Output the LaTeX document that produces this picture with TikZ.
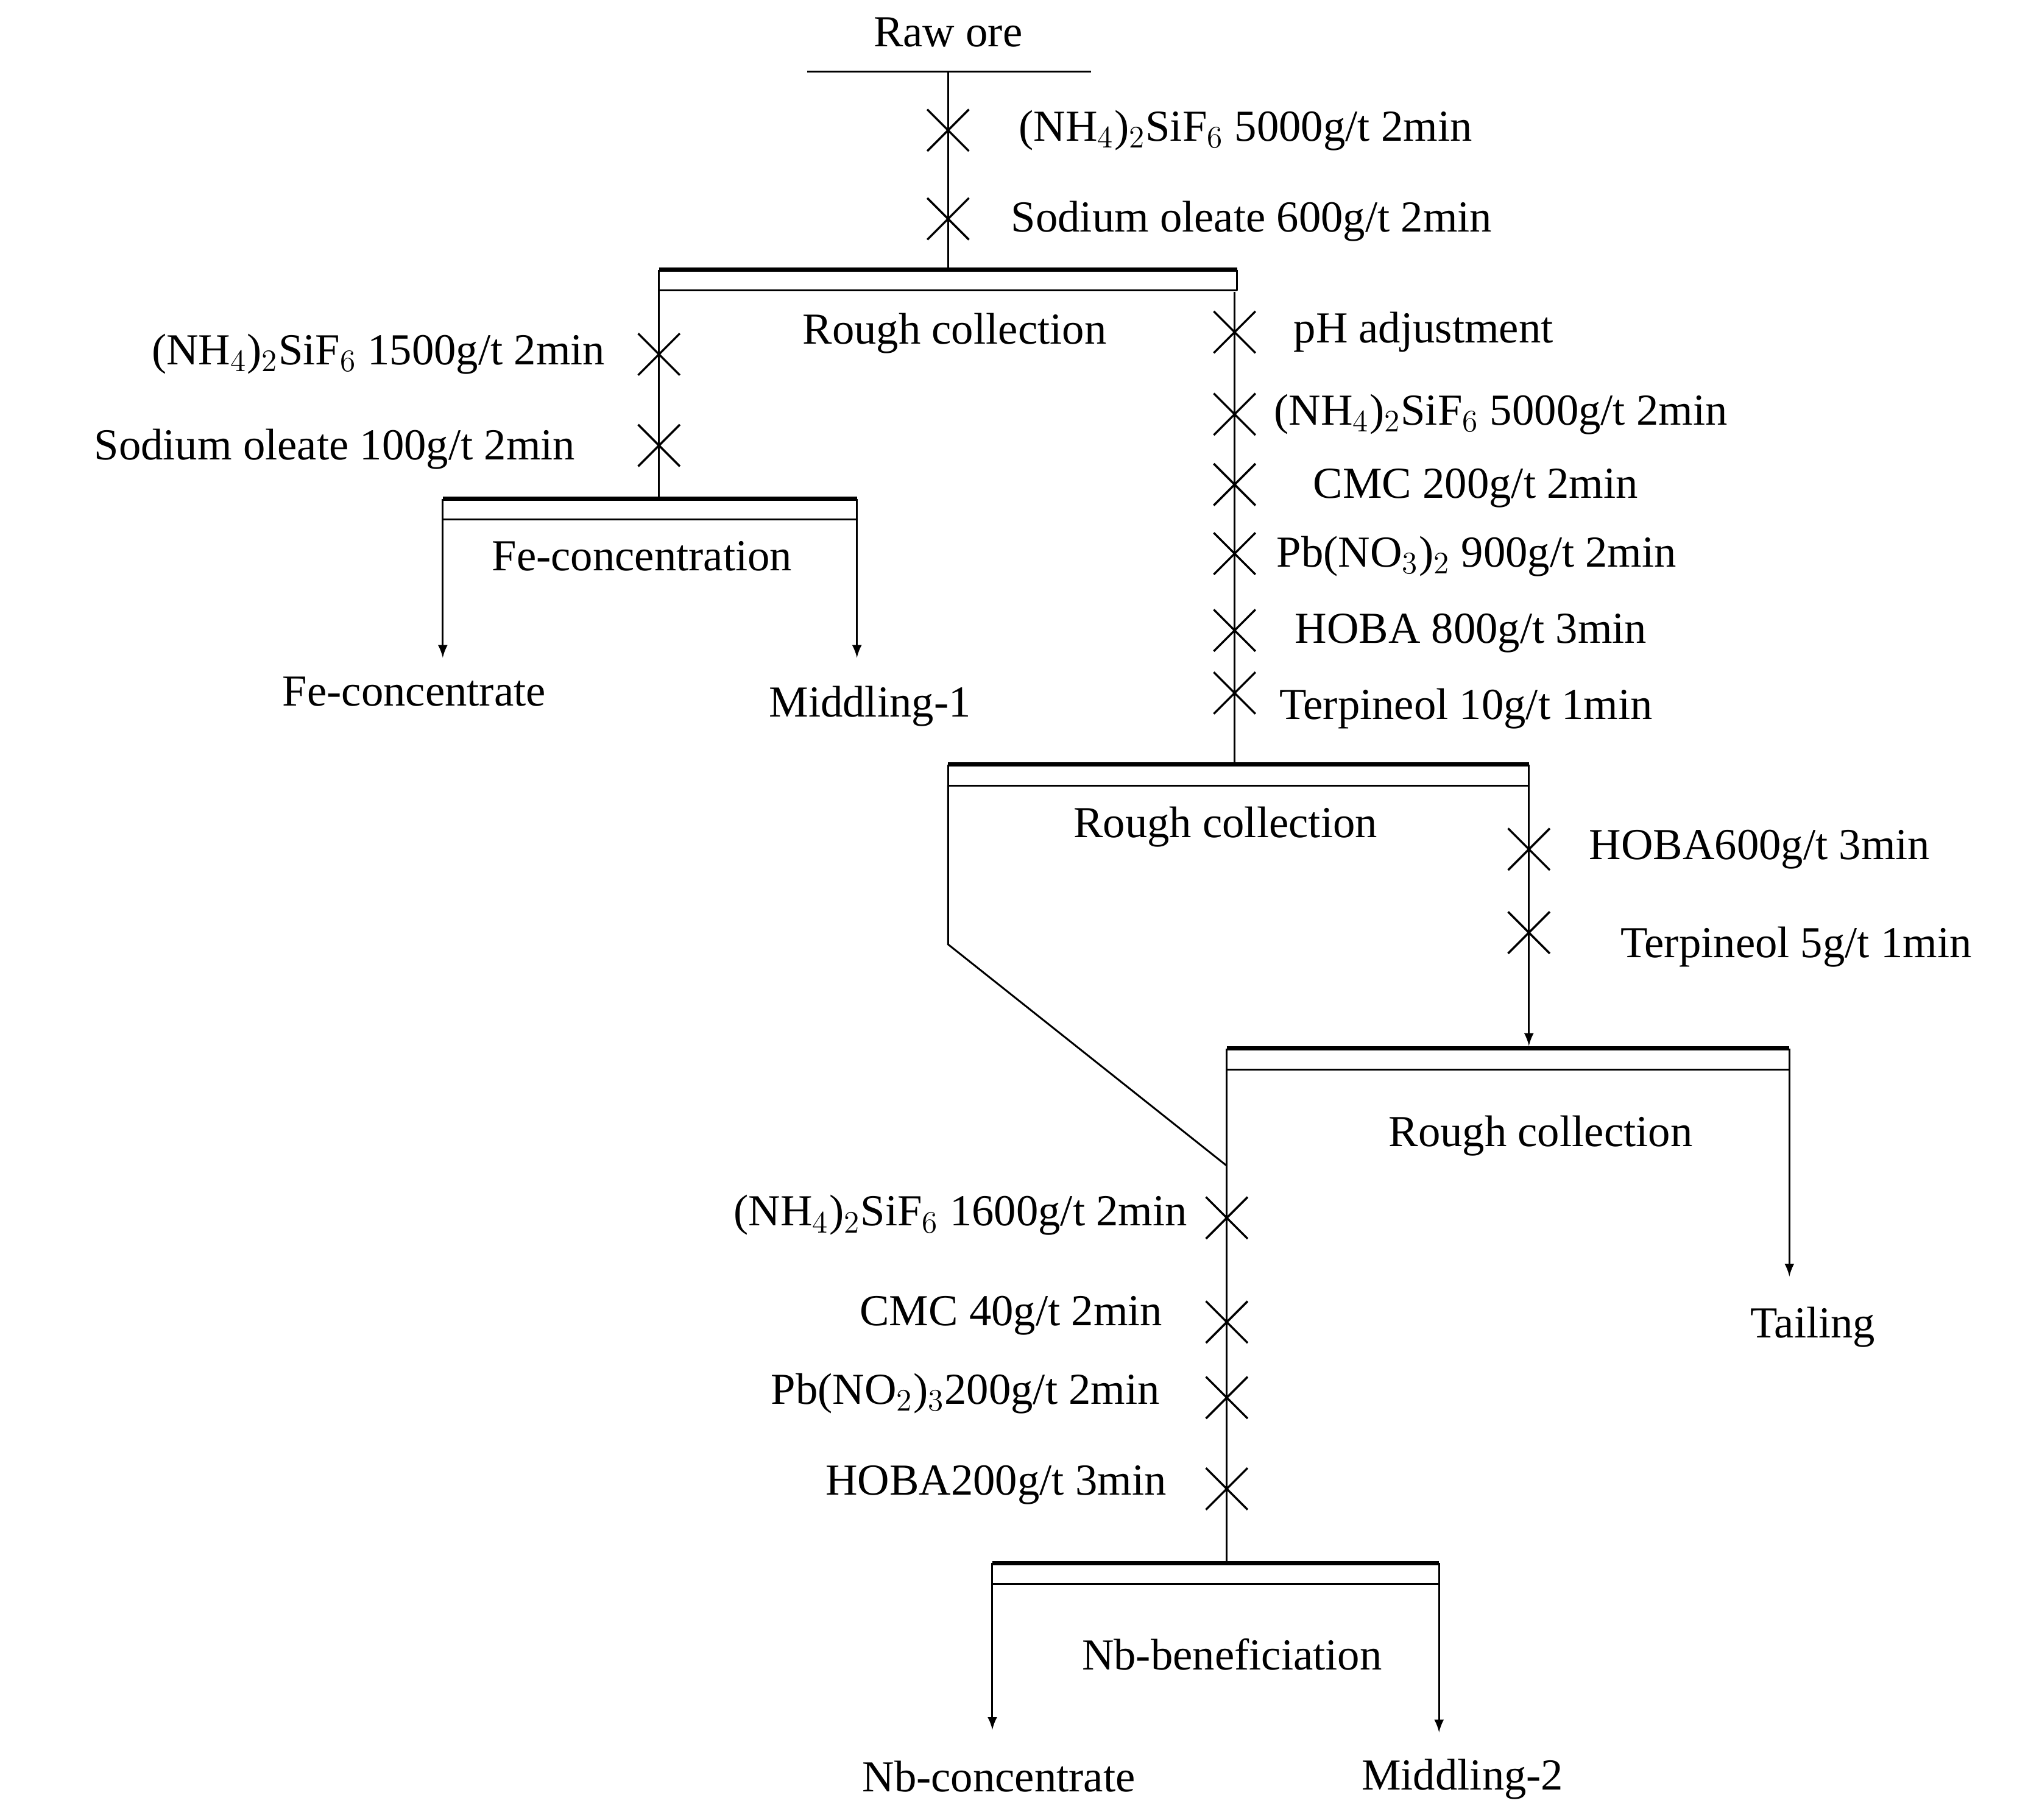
\documentclass[tikz,border=0pt]{standalone}
\usepackage{fontspec}
\setmainfont{Liberation Serif}
\begin{document}
\begin{tikzpicture}[x=0.5pt,y=-0.5pt,
  ln/.style={line width=0.7pt},
  bar/.style={line width=1.6pt},
  arr/.style={ln,-latex},
  txt/.style={font=\fontsize{17}{20}\selectfont,inner sep=0pt},
  crs/.pic={\draw[line width=0.8pt] (-16,-16)--(16,16) (-16,16)--(16,-16);}]
\useasboundingbox (0,0) rectangle (1568,1397);
\newcommand\cell[4]{% x1,x2,y,name
  \draw[bar] (#1,#3)--(#2,#3);
  \draw[ln] (#1,#3+16)--(#2,#3+16) (#1,#3)--(#1,#3+16) (#2,#3)--(#2,#3+16);
  \coordinate (#4L) at (#1,#3+16); \coordinate (#4R) at (#2,#3+16);}
% raw ore
\node[txt] (raw) at (728,25) {Raw ore};
\draw[ln] (620,55)--(838,55);
\coordinate (r0) at (728,55);
\cell{506}{950}{207}{A}
\draw[ln] (r0)--(728,207);
\pic at (728,100) {crs}; \pic at (728,168) {crs};
\node[txt,anchor=west] (t1) at (782,100) {(NH$_4$)$_2$SiF$_6$ 5000g/t 2min};
\node[txt,anchor=west] (t2) at (776,170) {Sodium oleate 600g/t 2min};
\node[txt] (rc1) at (733,256) {Rough collection};
% left branch
\cell{340}{658}{383}{B}
\draw[ln] (AL)--(506,383);
\pic at (506,272) {crs}; \pic at (506,342) {crs};
\node[txt,anchor=east] (t3) at (465,272) {(NH$_4$)$_2$SiF$_6$ 1500g/t 2min};
\node[txt,anchor=east] (t4) at (442,345) {Sodium oleate 100g/t 2min};
\node[txt] (fec) at (493,427) {Fe-concentration};
\node[txt] (fe) at (318,531) {Fe-concentrate};
\node[txt] (m1) at (668,542) {Middling-1};
\coordinate (fa) at (340,505); \coordinate (ma) at (658,505);
\draw[arr] (BL)--(fa); \draw[arr] (BR)--(ma);
% right branch
\cell{728}{1174}{587}{C}
\draw[ln] (948,224)--(948,587);
\foreach \y in {255,318,372,425,484,532} \pic at (948,\y) {crs};
\node[txt,anchor=west] at (993,255) {pH adjustment};
\node[txt,anchor=west] at (978,318) {(NH$_4$)$_2$SiF$_6$ 5000g/t 2min};
\node[txt,anchor=west] at (1008,375) {CMC 200g/t 2min};
\node[txt,anchor=west] at (980,427) {Pb(NO$_3$)$_2$ 900g/t 2min};
\node[txt,anchor=west] at (994,486) {HOBA 800g/t 3min};
\node[txt,anchor=west] at (982,544) {Terpineol 10g/t 1min};
\node[txt] (rc2) at (941,635) {Rough collection};
% cell 3
\cell{942}{1374}{805}{D}
\coordinate (bend) at (728,725); \coordinate (join) at (942,895);
\draw[ln] (CL)--(bend)--(join);
\coordinate (da) at (1174,803);
\draw[arr] (CR)--(da);
\pic at (1174,652) {crs}; \pic at (1174,716) {crs};
\node[txt,anchor=west] at (1220,652) {HOBA600g/t 3min};
\node[txt,anchor=west] at (1244,727) {Terpineol 5g/t 1min};
\node[txt] (rc3) at (1183,872) {Rough collection};
\coordinate (ta) at (1374,980);
\draw[arr] (DR)--(ta);
\node[txt] (tail) at (1392,1019) {Tailing};
% Nb cell
\cell{762}{1105}{1200}{E}
\draw[ln] (DL)--(942,1200);
\foreach \y in {935,1015,1073,1143} \pic at (942,\y) {crs};
\node[txt,anchor=east] at (912,933) {(NH$_4$)$_2$SiF$_6$ 1600g/t 2min};
\node[txt,anchor=east] at (893,1010) {CMC 40g/t 2min};
\node[txt,anchor=east] at (891,1070) {Pb(NO$_2$)$_3$200g/t 2min};
\node[txt,anchor=east] at (896,1140) {HOBA200g/t 3min};
\node[txt] (nbb) at (946,1270) {Nb-beneficiation};
\coordinate (na) at (762,1328); \coordinate (m2a) at (1105,1330);
\draw[arr] (EL)--(na); \draw[arr] (ER)--(m2a);
\node[txt] (nb) at (767,1364) {Nb-concentrate};
\node[txt] (m2) at (1123,1366) {Middling-2};
\end{tikzpicture}
\end{document}
